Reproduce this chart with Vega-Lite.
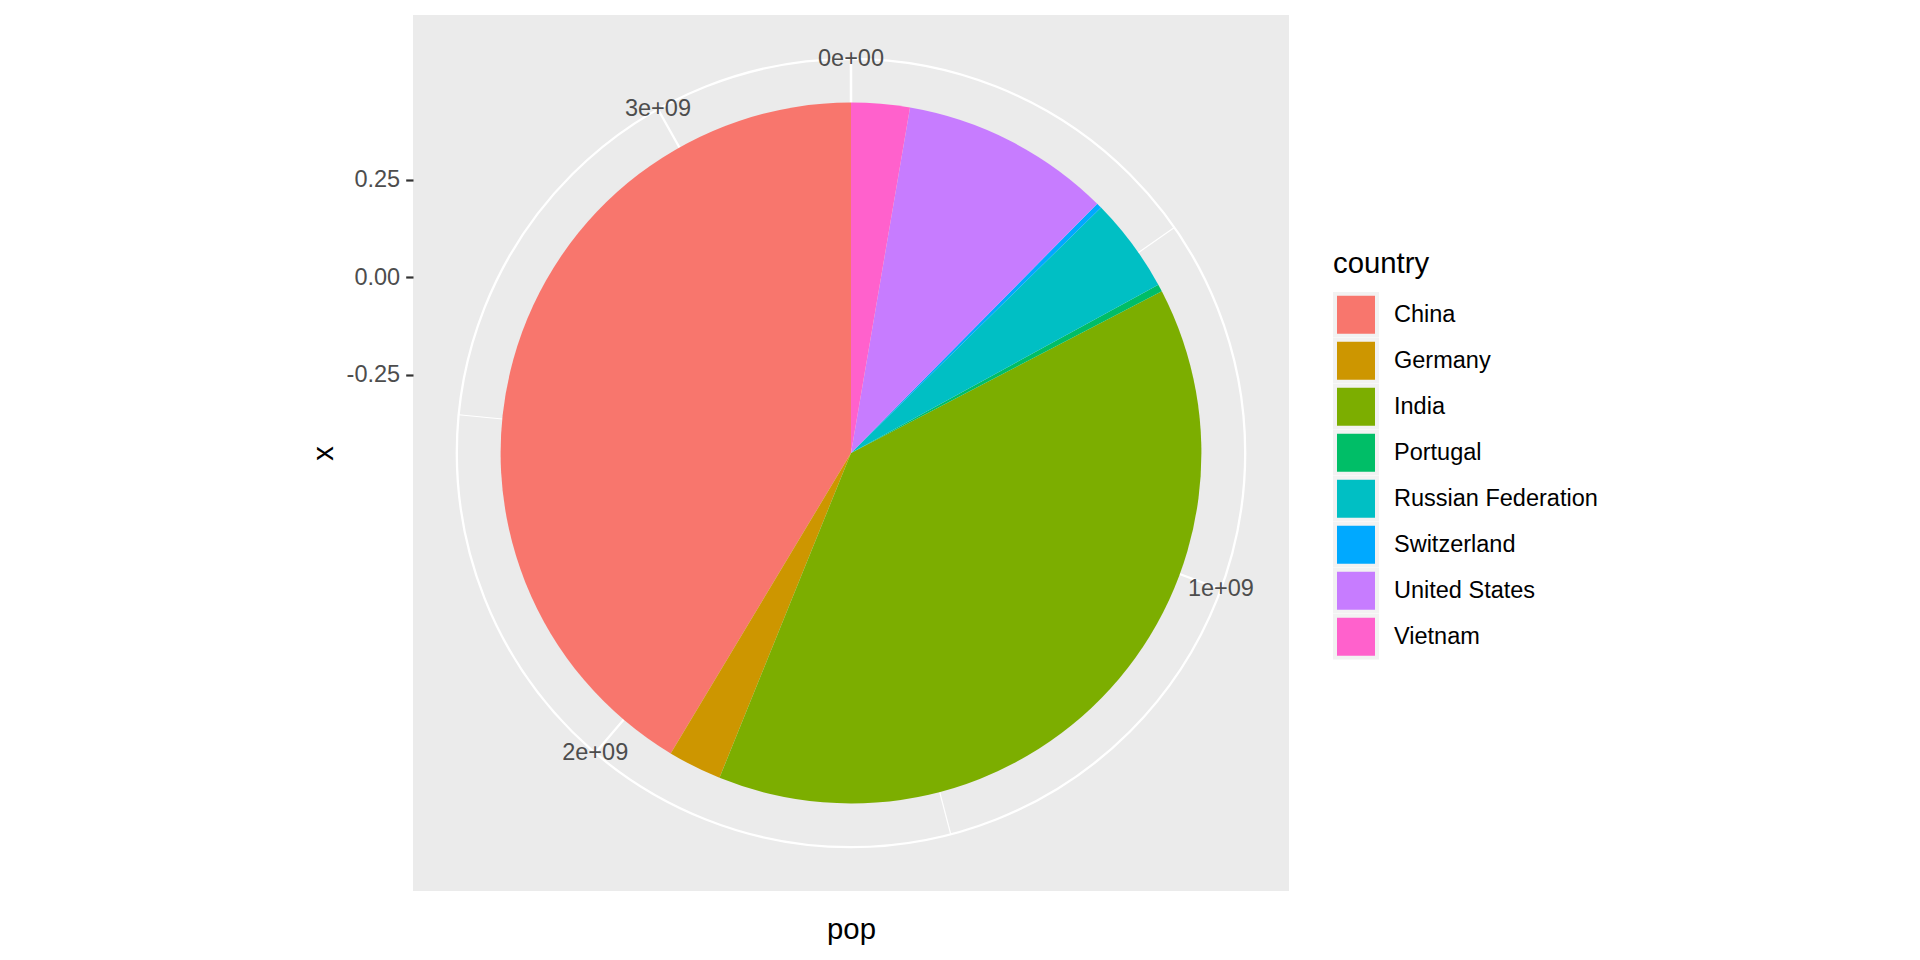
{
  "$schema": "https://vega.github.io/schema/vega-lite/v6.json",
  "width": 876,
  "height": 876,
  "autosize": {"type": "none"},
  "padding": {"left": 413, "top": 15, "right": 631, "bottom": 69},
  "config": {
    "view": {"fill": "#EBEBEB", "stroke": null},
    "font": "Liberation Sans"
  },
  "datasets": {
    "pie": [
      {"country": "China", "pop": 1352000000},
      {"country": "Germany", "pop": 81000000},
      {"country": "India", "pop": 1266000000},
      {"country": "Portugal", "pop": 11000000},
      {"country": "Russian Federation", "pop": 143000000},
      {"country": "Switzerland", "pop": 8000000},
      {"country": "United States", "pop": 317000000},
      {"country": "Vietnam", "pop": 88000000}
    ],
    "breaks": [
      {"brk": 0, "grid": "major", "label": "0e+00"},
      {"brk": 500000000, "grid": "minor", "label": ""},
      {"brk": 1000000000, "grid": "major", "label": "1e+09"},
      {"brk": 1500000000, "grid": "minor", "label": ""},
      {"brk": 2000000000, "grid": "major", "label": "2e+09"},
      {"brk": 2500000000, "grid": "minor", "label": ""},
      {"brk": 3000000000, "grid": "major", "label": "3e+09"}
    ],
    "rticks": [{"r": -0.25}, {"r": 0}, {"r": 0.25}]
  },
  "layer": [
    {
      "data": {"name": "breaks"},
      "transform": [{"filter": "datum.grid == 'minor'"}],
      "mark": {"type": "arc", "filled": false, "stroke": "white", "strokeWidth": 1.2, "radius": 394.2, "radius2": 0},
      "encoding": {
        "theta": {"field": "brk", "type": "quantitative", "stack": null, "scale": {"nice": false, "zero": true}},
        "theta2": {"field": "brk"}
      }
    },
    {
      "data": {"name": "breaks"},
      "transform": [{"filter": "datum.grid == 'major'"}],
      "mark": {"type": "arc", "filled": false, "stroke": "white", "strokeWidth": 2.3, "radius": 394.2, "radius2": 0},
      "encoding": {
        "theta": {"field": "brk", "type": "quantitative", "stack": null},
        "theta2": {"field": "brk"}
      }
    },
    {
      "data": {"values": [{"ring": "outer"}]},
      "mark": {"type": "arc", "filled": false, "stroke": "white", "strokeWidth": 2.3, "theta": 0, "theta2": 6.2831853, "radius": 394.2, "radius2": 0},
      "encoding": {}
    },
    {
      "data": {"name": "pie"},
      "mark": {"type": "arc", "radius": 350.4},
      "encoding": {
        "theta": {"field": "pop", "type": "quantitative", "stack": true},
        "order": {"field": "country", "type": "nominal", "sort": "descending"},
        "color": {
          "field": "country",
          "type": "nominal",
          "scale": {
            "domain": ["China", "Germany", "India", "Portugal", "Russian Federation", "Switzerland", "United States", "Vietnam"],
            "range": ["#F8766D", "#CD9600", "#7CAE00", "#00BE67", "#00BFC4", "#00A9FF", "#C77CFF", "#FF61CC"]
          },
          "legend": {
            "title": "country",
            "orient": "none",
            "legendX": 920,
            "legendY": 235,
            "padding": 0,
            "titleFontSize": 29.3,
            "titleFontWeight": "normal",
            "titleColor": "#000000",
            "titlePadding": 12.5,
            "labelFontSize": 23.5,
            "labelColor": "#000000",
            "labelOffset": 15,
            "labelLimit": 0,
            "symbolType": "square",
            "symbolSize": 1764,
            "symbolStrokeColor": "#F2F2F2",
            "symbolStrokeWidth": 4,
            "symbolOpacity": 1,
            "clipHeight": 46,
            "rowPadding": 0
          }
        }
      }
    },
    {
      "data": {"name": "breaks"},
      "transform": [{"filter": "datum.grid == 'major'"}],
      "mark": {"type": "text", "radius": 394.2, "fontSize": 23.5, "color": "#4D4D4D", "align": "center", "baseline": "middle"},
      "encoding": {
        "theta": {"field": "brk", "type": "quantitative", "stack": null},
        "text": {"field": "label"}
      }
    },
    {
      "data": {"name": "rticks"},
      "mark": {"type": "point", "opacity": 0},
      "encoding": {
        "y": {
          "field": "r",
          "type": "quantitative",
          "scale": {"domain": [-1.5763, 0.6737], "nice": false, "zero": false},
          "axis": {
            "title": "x",
            "values": [-0.25, 0, 0.25],
            "labelExpr": "datum.value < 0 ? '-' + format(-datum.value, '.2f') : format(datum.value, '.2f')",
            "grid": false,
            "domain": false,
            "tickColor": "#333333",
            "tickWidth": 2.2,
            "tickSize": 7.3,
            "labelFontSize": 23.5,
            "labelColor": "#4D4D4D",
            "labelPadding": 6,
            "titleFontSize": 29.3,
            "titleFontWeight": "normal",
            "titleColor": "#000000",
            "titleX": -81,
            "titleY": 438,
            "titleAlign": "center",
            "titleBaseline": "alphabetic",
            "titleAngle": -90
          }
        },
        "x": {
          "datum": 0,
          "type": "quantitative",
          "scale": {"domain": [-1, 1]},
          "axis": {
            "title": "pop",
            "labels": false,
            "ticks": false,
            "domain": false,
            "grid": false,
            "titleFontSize": 29.3,
            "titleFontWeight": "normal",
            "titleColor": "#000000",
            "titleX": 438,
            "titleY": 47,
            "titleAlign": "center",
            "titleBaseline": "alphabetic"
          }
        }
      }
    }
  ]
}
